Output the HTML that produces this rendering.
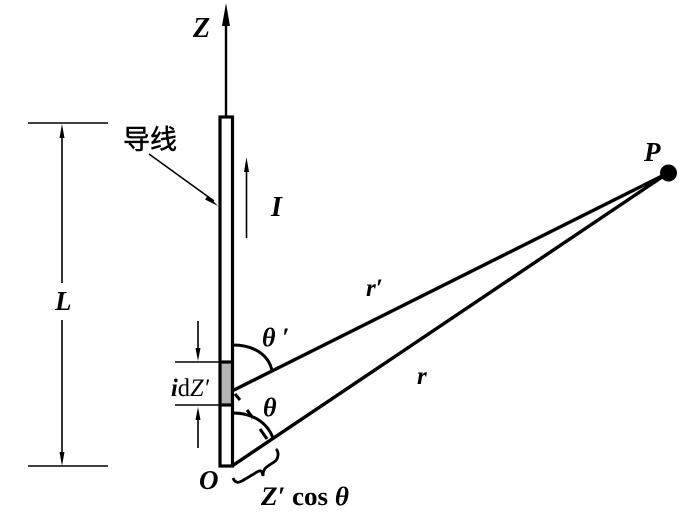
<!DOCTYPE html>
<html><head><meta charset="utf-8">
<style>
html,body{margin:0;padding:0;background:#fff;width:700px;height:531px;overflow:hidden}
svg{display:block}
text{font-family:"Liberation Serif","Noto Serif CJK SC",serif;fill:#000}
.bi{font-weight:bold;font-style:italic}
</style></head>
<body>
<svg width="700" height="531" viewBox="0 0 700 531" xmlns="http://www.w3.org/2000/svg">
<!-- Z axis -->
<line x1="226" y1="20" x2="226" y2="117" stroke="#000" stroke-width="2.4"/>
<polygon points="226,3 222,26 230,26" fill="#000"/>
<!-- conductor -->
<rect x="221" y="362" width="11" height="43" fill="#b4b4b4"/>
<rect x="220" y="117" width="12.5" height="349" fill="none" stroke="#000" stroke-width="3.2"/>
<line x1="220" y1="362" x2="233" y2="362" stroke="#000" stroke-width="3.2"/>
<line x1="220" y1="405" x2="233" y2="405" stroke="#000" stroke-width="3.2"/>
<!-- L dimension -->
<g stroke="#000" stroke-width="1.6" fill="none">
<line x1="28" y1="123" x2="108" y2="123"/>
<line x1="28" y1="466" x2="108" y2="466"/>
<line x1="62" y1="130" x2="62" y2="283"/>
<line x1="62" y1="320" x2="62" y2="460"/>
<line x1="175" y1="362" x2="219" y2="362"/>
<line x1="175" y1="405" x2="219" y2="405"/>
<line x1="198" y1="321" x2="198" y2="356"/>
<line x1="198" y1="412" x2="198" y2="448"/>
<line x1="246.5" y1="168" x2="246.5" y2="238"/>
<line x1="149" y1="154" x2="214" y2="201"/>
</g>
<g fill="#000">
<polygon points="62,124 59.5,138 64.5,138"/>
<polygon points="62,466 59.5,452 64.5,452"/>
<polygon points="198,361 195.5,348 200.5,348"/>
<polygon points="198,407 195.5,420 200.5,420"/>
<polygon points="246.5,157 244,172 249,172"/>
<polygon points="218,206 205,199.5 208,195.5"/>
</g>
<!-- rays -->
<g stroke="#000" stroke-width="3.4" fill="none">
<line x1="232" y1="391" x2="668" y2="173"/>
<line x1="232" y1="466" x2="668" y2="173"/>
<path d="M233,345 C254,345 269,355 272,371" stroke-width="3"/>
<path d="M233,413 C252,413 267,422 273,438" stroke-width="3"/>
<path d="M235,394 L240,400 M247,410 L253,418 M260,429 L267,439" stroke-width="3"/>
<path d="M233,478 C235,483 238,483 242,481 L257,472 C260,470 262,470 263,476 C263,470 265,468 268,466 L274,462 C279,459 279,452 276,449" stroke-width="2.8"/>
</g>
<circle cx="668.5" cy="173" r="8.5" fill="#000"/>
<!-- labels -->
<text x="193" y="37" class="bi" font-size="28">Z</text>
<text x="123" y="149" font-size="27" stroke="#000" stroke-width="0.5" style="font-family:'Noto Sans CJK SC','WenQuanYi Zen Hei',sans-serif">导线</text>
<text x="271" y="216" class="bi" font-size="28">I</text>
<text x="55" y="310" class="bi" font-size="27">L</text>
<text x="644" y="161" class="bi" font-size="27">P</text>
<text x="366" y="296" class="bi" font-size="25">r′</text>
<text x="417" y="384" class="bi" font-size="25">r</text>
<text x="262" y="346" class="bi" font-size="26">θ ′</text>
<text x="263" y="416" class="bi" font-size="26">θ</text>
<text x="171" y="396" font-size="25" textLength="38" lengthAdjust="spacingAndGlyphs"><tspan font-style="italic" font-weight="bold">i</tspan>d<tspan font-style="italic">Z′</tspan></text>
<text x="199" y="489" class="bi" font-size="27">O</text>
<text x="261" y="505" font-size="26" font-weight="bold" textLength="88" lengthAdjust="spacingAndGlyphs"><tspan font-style="italic">Z′</tspan> cos <tspan font-style="italic">θ</tspan></text>
</svg>
</body></html>
